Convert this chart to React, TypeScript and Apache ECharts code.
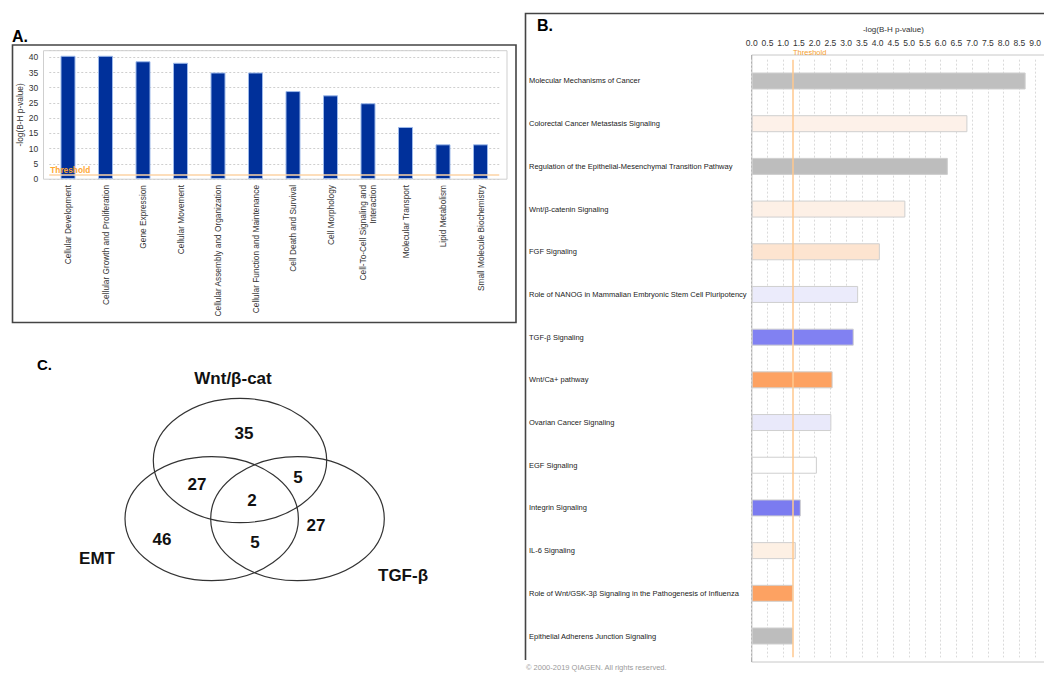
import React, { useEffect, useRef } from "react";
import * as echarts from "echarts";

// ---------- Panel A data ----------
const functionCategories = [
  "Cellular Development",
  "Cellular Growth and Proliferation",
  "Gene Expression",
  "Cellular Movement",
  "Cellular Assembly and Organization",
  "Cellular Function and Maintenance",
  "Cell Death and Survival",
  "Cell Morphology",
  "Cell-To-Cell Signaling and\nInteraction",
  "Molecular Transport",
  "Lipid Metabolism",
  "Small Molecule Biochemistry",
];
const functionValues = [40.5, 40.5, 38.7, 38.2, 35.0, 35.0, 28.9, 27.5, 24.9, 17.1, 11.4, 11.4];
const functionAxisMax = 42.17;
const functionTickStep = 5;

// ---------- Panel B data ----------
const pathwayNames = [
  "Molecular Mechanisms of Cancer",
  "Colorectal Cancer Metastasis Signaling",
  "Regulation of the Epithelial-Mesenchymal Transition Pathway",
  "Wnt/β-catenin Signaling",
  "FGF Signaling",
  "Role of NANOG in Mammalian Embryonic Stem Cell Pluripotency",
  "TGF-β Signaling",
  "Wnt/Ca+ pathway",
  "Ovarian Cancer Signaling",
  "EGF Signaling",
  "Integrin Signaling",
  "IL-6 Signaling",
  "Role of Wnt/GSK-3β Signaling in the Pathogenesis of Influenza",
  "Epithelial Adherens Junction Signaling",
];
const pathwayValues = [8.7, 6.85, 6.23, 4.88, 4.07, 3.38, 3.24, 2.57, 2.53, 2.07, 1.56, 1.4, 1.31, 1.31];
const pathwayColors = [
  "#bfbfbf", "#fdf1e9", "#bdbdbd", "#fdf0e6", "#fde4d0", "#ebebfb", "#8181f2",
  "#fda262", "#e9e9fa", "#ffffff", "#7b7bf0", "#fdf0e4", "#fda262", "#bdbdbd",
];
const pathwayAxisMax = 9;
const pathwayTickStep = 0.5;
const thresholdValue = 1.3;

// ---------- Panel C data ----------
const vennSetNames = ["Wnt/β-cat", "EMT", "TGF-β"];
const vennRegions = ["Wnt only", "Wnt∩EMT", "Wnt∩TGF", "all", "TGF only", "EMT only", "EMT∩TGF"];
const vennCounts = [35, 27, 5, 2, 27, 46, 5];

// layout (positions of Venn regions / sets)
const vennEllipses = [
  { cx: 240, cy: 460.5, rx: 86.7, ry: 62.2 },
  { cx: 211.7, cy: 518.7, rx: 86.7, ry: 62 },
  { cx: 297.5, cy: 518.7, rx: 86.8, ry: 62 },
];
const vennRegionPos = [
  [244, 433], [197, 484], [298, 477], [252, 500], [316, 525], [162, 539], [255, 542],
];
const vennSetLabelPos = [
  { x: 233, y: 378, align: "center" },
  { x: 97, y: 558, align: "center" },
  { x: 378, y: 575, align: "left" },
];

const lib = '"Liberation Sans", Arial, Helvetica, sans-serif';

export default function App() {
  const ref = useRef<HTMLDivElement>(null);

  useEffect(() => {
    if (!ref.current) return;
    const chart = echarts.init(ref.current, null, { renderer: "svg" });

    const graphic: any[] = [
      // panel letters
      { type: "text", left: 12, top: 28, style: { text: "A.", font: `bold 16px ${lib}`, fill: "#000" } },
      { type: "text", left: 537, top: 17, style: { text: "B.", font: `bold 16px ${lib}`, fill: "#000" } },
      { type: "text", left: 37, top: 357, style: { text: "C.", font: `bold 15px ${lib}`, fill: "#000" } },
      // panel A outer frame
      { type: "rect", shape: { x: 12.5, y: 45, width: 503.5, height: 277.5 }, style: { fill: "none", stroke: "#444", lineWidth: 1.6 }, z: 0 },
      // panel A plot box
      { type: "rect", shape: { x: 43.5, y: 50.7, width: 463.5, height: 128.5 }, style: { fill: "none", stroke: "#cfcfcf", lineWidth: 1 }, z: 0 },
      // panel B frame
      { type: "polyline", shape: { points: [[1044, 13.5], [525.5, 13.5], [525.5, 660]] }, style: { fill: "none", stroke: "#444", lineWidth: 1.6 }, z: 0 },
      // panel B plot box
      { type: "rect", shape: { x: 751.7, y: 55, width: 300, height: 607 }, style: { fill: "none", stroke: "#c8c8c8", lineWidth: 1 }, z: 0 },
      { type: "line", shape: { x1: 751.7, y1: 55, x2: 751.7, y2: 662 }, style: { stroke: "#a8a8a8", lineWidth: 1 }, z: 0 },
      // threshold label B
      { type: "text", left: 793, top: 48.5, style: { text: "Threshold", font: `7.5px ${lib}`, fill: "#f5a030" }, z: 10 },
      // copyright
      { type: "text", left: 526, top: 663, style: { text: "© 2000-2019 QIAGEN. All rights reserved.", font: `7.5px ${lib}`, fill: "#9a9a9a" } },
    ];

    vennEllipses.forEach((e) => {
      graphic.push({ type: "ellipse", shape: e, style: { fill: "none", stroke: "#333", lineWidth: 1.2 } });
    });
    vennCounts.forEach((c, i) => {
      graphic.push({
        type: "text",
        x: vennRegionPos[i][0],
        y: vennRegionPos[i][1],
        name: vennRegions[i],
        style: { text: String(c), font: `bold 17px ${lib}`, fill: "#111", align: "center", verticalAlign: "middle" },
      });
    });
    vennSetNames.forEach((n, i) => {
      const p = vennSetLabelPos[i];
      graphic.push({
        type: "text",
        x: p.x,
        y: p.y,
        style: { text: n, font: `bold 17px ${lib}`, fill: "#111", align: p.align, verticalAlign: "middle" },
      });
    });

    const option: any = {
      animation: false,
      backgroundColor: "#fff",
      grid: [
        { left: 49.25, top: 50.7, width: 450, height: 128.3 },
        { left: 751.7, top: 59.65, width: 293.4, height: 597.7 },
      ],
      xAxis: [
        {
          gridIndex: 0,
          type: "category",
          data: functionCategories,
          axisLine: { show: false },
          axisTick: { show: false },
          axisLabel: { rotate: 90, interval: 0, margin: 6, fontSize: 8.3, lineHeight: 9.5, color: "#333", fontFamily: lib },
        },
        {
          gridIndex: 1,
          type: "value",
          position: "top",
          min: 0,
          max: pathwayAxisMax,
          interval: pathwayTickStep,
          name: "-log(B-H p-value)",
          nameLocation: "middle",
          nameGap: 26,
          nameTextStyle: { fontSize: 8, color: "#333", fontFamily: lib },
          axisLine: { show: false },
          axisTick: { show: false },
          axisLabel: { margin: 12, fontSize: 8.5, color: "#333", fontFamily: lib, formatter: (v: number) => v.toFixed(1) },
          splitLine: { show: true, lineStyle: { type: [2, 2], color: "#dadada", width: 1 } },
        },
      ],
      yAxis: [
        {
          gridIndex: 0,
          type: "value",
          min: 0,
          max: functionAxisMax,
          interval: functionTickStep,
          name: "-log(B-H p-value)",
          nameLocation: "middle",
          nameGap: 25,
          nameTextStyle: { fontSize: 8.3, color: "#333", fontFamily: lib },
          axisLine: { show: false },
          axisTick: { show: false },
          axisLabel: {
            margin: 11,
            fontSize: 8.5,
            color: "#333",
            fontFamily: lib,
            formatter: (v: number) => (Math.abs(v % functionTickStep) < 1e-6 ? String(v) : ""),
          },
          splitLine: { show: true, lineStyle: { type: [2, 2], color: "#cfcfcf" } },
        },
        {
          gridIndex: 1,
          type: "category",
          inverse: true,
          data: pathwayNames,
          axisLine: { show: false },
          axisTick: { show: false },
          axisLabel: { align: "left", margin: 222.7, interval: 0, fontSize: 7.5, color: "#222", fontFamily: lib },
        },
      ],
      series: [
        {
          type: "bar",
          xAxisIndex: 0,
          yAxisIndex: 0,
          data: functionValues,
          barWidth: 15,
          itemStyle: { color: "#00309a", borderColor: "#9db9ea", borderWidth: 1 },
          markLine: {
            silent: true,
            symbol: "none",
            data: [{ yAxis: thresholdValue }],
            lineStyle: { color: "#fcd3a4", width: 1.5, type: "solid" },
            label: { show: true, position: "insideStartTop", formatter: "Threshold", color: "#ffa733", fontSize: 8.3, fontWeight: "bold", fontFamily: lib, distance: 1 },
          },
        },
        {
          type: "bar",
          xAxisIndex: 1,
          yAxisIndex: 1,
          data: pathwayValues.map((v, i) => ({ value: v, itemStyle: { color: pathwayColors[i] } })),
          barWidth: 17,
          itemStyle: { borderColor: "#cfcfcf", borderWidth: 1 },
          markLine: {
            silent: true,
            symbol: "none",
            data: [{ xAxis: thresholdValue }],
            lineStyle: { color: "#ffc98f", width: 1.5, type: "solid" },
            label: { show: false },
          },
        },
      ],
      graphic,
    };

    chart.setOption(option);
    return () => chart.dispose();
  }, []);

  return <div ref={ref} style={{ position: "absolute", left: 0, top: 0, width: 1044, height: 673 }} />;
}
